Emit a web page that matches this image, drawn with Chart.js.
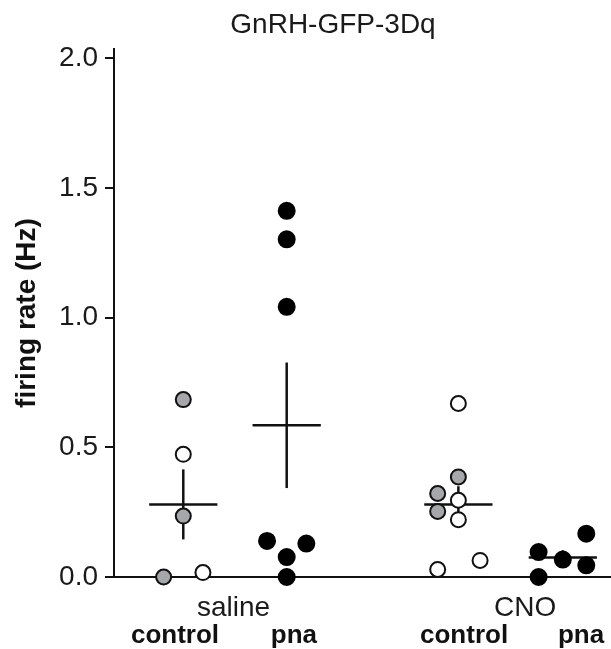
<!DOCTYPE html>
<html><head><meta charset="utf-8">
<script src="https://cdn.jsdelivr.net/npm/chart.js@4/dist/chart.umd.min.js"></script>
<style>html,body{margin:0;padding:0;background:#fff;}canvas{display:block;}</style>
</head><body>
<canvas id="c" width="611" height="649"></canvas>
<script>
// ---- data ----
const chartTitle = 'GnRH-GFP-3Dq';
const yAxisTitle = 'firing rate (Hz)';
const treatments = ['saline', 'CNO'];
const groups = ['control', 'pna', 'control', 'pna'];
const yTicks = [0, 0.5, 1.0, 1.5, 2.0];

// grey-filled cells
const grayGroup = [0, 0, 0, 2, 2, 2];
const grayValue = [0.684, 0.235, 0.0, 0.386, 0.322, 0.253];
// open cells
const openGroup = [0, 0, 2, 2, 2, 2, 2];
const openValue = [0.473, 0.017, 0.669, 0.296, 0.221, 0.064, 0.029];
// black cells (pna)
const blackGroup = [1, 1, 1, 1, 1, 1, 1, 3, 3, 3, 3, 3];
const blackValue = [1.412, 1.302, 1.042, 0.139, 0.129, 0.077, 0.0, 0.096, 0.0, 0.067, 0.167, 0.045];
// group mean and SEM
const means = [0.280, 0.585, 0.280, 0.075];
const semLow = [0.145, 0.343, 0.21, 0.047];
const semHigh = [0.415, 0.827, 0.35, 0.103];

// ---- layout (positions only) ----
const groupPos = [1, 2, 3.66, 4.67];
const groupLabelPos = [0.92, 2.07, 3.715, 4.846];
const treatmentLabelPos = [1.486, 4.305];
const grayJitter = [0, 0, -0.19, 0, -0.2, -0.2];
const openJitter = [0, 0.19, 0, 0, 0, 0.21, -0.2];
const blackJitter = [0, 0, 0, -0.19, 0.19, 0, 0, -0.234, -0.234, 0, 0.227, 0.227];
const meanHalfWidth = 0.33;

const FONT = '"Liberation Sans", Arial, Helvetica, sans-serif';
Chart.defaults.font.family = FONT;
Chart.defaults.color = '#1a1a1a';

function pts(gIdx, vals, jit) {
  return vals.map((v, i) => ({ x: groupPos[gIdx[i]] + jit[i], y: v }));
}

const pointBase = { showLine: false, clip: false, order: 0, pointBorderColor: '#111', pointBorderWidth: 2 };
const datasets = [
  Object.assign({}, pointBase, { label: 'gray', data: pts(grayGroup, grayValue, grayJitter), pointBackgroundColor: '#a5a7aa', pointRadius: 7.5 }),
  Object.assign({}, pointBase, { label: 'open', data: pts(openGroup, openValue, openJitter), pointBackgroundColor: '#ffffff', pointRadius: 7.5 }),
  Object.assign({}, pointBase, { label: 'black', data: pts(blackGroup, blackValue, blackJitter), pointBackgroundColor: '#000000', pointBorderColor: '#000', pointRadius: 8 })
];
groupPos.forEach((gx, i) => {
  const lineBase = { showLine: true, pointRadius: 0, borderColor: '#111', borderWidth: 2.5, fill: false, clip: false, order: 1 };
  datasets.push(Object.assign({}, lineBase, { data: [{ x: gx - meanHalfWidth, y: means[i] }, { x: gx + meanHalfWidth, y: means[i] }] }));
  datasets.push(Object.assign({}, lineBase, { data: [{ x: gx, y: semLow[i] }, { x: gx, y: semHigh[i] }] }));
});

const titlePlugin = {
  id: 'topTitle',
  afterDraw(chart) {
    const ctx = chart.ctx;
    ctx.save();
    ctx.font = '28px ' + FONT;
    ctx.fillStyle = '#1a1a1a';
    ctx.textAlign = 'center';
    ctx.textBaseline = 'alphabetic';
    ctx.fillText(chartTitle, 333, 33);
    ctx.restore();
  }
};

const X_MIN = 0.33, X_MAX = 5.136;
function noPad(s) { s.paddingLeft = 0; s.paddingRight = 0; }

new Chart(document.getElementById('c'), {
  type: 'scatter',
  data: { datasets },
  plugins: [titlePlugin],
  options: {
    responsive: false,
    devicePixelRatio: 1,
    animation: false,
    layout: { autoPadding: false, padding: { top: 49, left: 0, right: 0, bottom: 0 } },
    plugins: { legend: { display: false }, tooltip: { enabled: false }, title: { display: false } },
    scales: {
      x: {
        type: 'linear', min: X_MIN, max: X_MAX, position: 'bottom', weight: 0,
        afterBuildTicks: s => { s.ticks = treatmentLabelPos.map(v => ({ value: v })); },
        afterFit: s => { s.height = 44; noPad(s); },
        grid: { display: false, drawTicks: false },
        border: { display: true, color: '#111', width: 2 },
        ticks: { autoSkip: false, maxRotation: 0, minRotation: 0, padding: 17,
                 font: { size: 28, lineHeight: 1 }, color: '#1a1a1a',
                 callback: (v, i) => treatments[i] }
      },
      x2: {
        type: 'linear', min: X_MIN, max: X_MAX, position: 'bottom', weight: 1,
        afterBuildTicks: s => { s.ticks = groupLabelPos.map(v => ({ value: v })); },
        afterFit: s => { s.height = 28; noPad(s); },
        grid: { display: false, drawTicks: false },
        border: { display: false },
        ticks: { autoSkip: false, maxRotation: 0, minRotation: 0, padding: 2,
                 font: { size: 26, weight: 'bold', lineHeight: 1 }, color: '#111',
                 callback: (v, i) => groups[i] }
      },
      y: {
        type: 'linear', min: 0, max: 2.036, position: 'left',
        afterBuildTicks: s => { s.ticks = yTicks.map(v => ({ value: v })); },
        afterFit: s => { s.width = 114; },
        grid: { drawOnChartArea: false, drawTicks: true, tickLength: 9, color: '#111', lineWidth: 2 },
        border: { display: true, color: '#111', width: 2 },
        ticks: { padding: 7, font: { size: 28, lineHeight: 1 }, color: '#1a1a1a',
                 callback: v => Number(v).toFixed(1) },
        title: { display: true, text: yAxisTitle, color: '#111',
                 font: { size: 28, weight: 'bold', lineHeight: 1.2 }, padding: { top: 10, bottom: 0 } }
      }
    }
  }
});
</script>
</body></html>
